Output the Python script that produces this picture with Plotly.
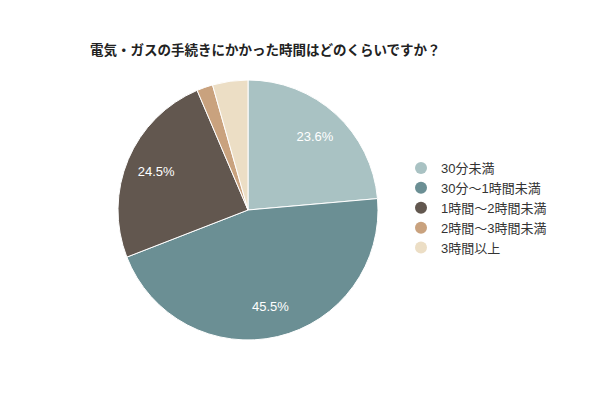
import plotly.graph_objects as go

title = "電気・ガスの手続きにかかった時間はどのくらいですか？"
categories = ["30分未満", "30分～1時間未満", "1時間～2時間未満", "2時間～3時間未満", "3時間以上"]
values = [23.6, 45.5, 24.5, 2.0, 4.4]
colors = ["#a9c2c3", "#6b8f94", "#62574f", "#c9a27e", "#ecdec5"]

labels_txt = [f"{v:.1f}%" if v >= 10 else "" for v in values]

OFF = 8  # page body margin
dom = dict(x=[(118 - OFF) / 600, (378 - OFF) / 600], y=[(60 + OFF) / 400, (320 + OFF) / 400])

fig = go.Figure()
fig.add_trace(go.Pie(
    labels=categories, values=values, sort=False, direction="clockwise",
    rotation=0, marker=dict(colors=colors, line=dict(color="white", width=1)),
    textinfo="none", showlegend=False, hoverinfo="label+percent", domain=dom,
))
# label layer: transparent ring so labels sit at ~3/4 of the radius
fig.add_trace(go.Pie(
    labels=categories, values=values, sort=False, direction="clockwise",
    rotation=0, hole=0.53,
    marker=dict(colors=["rgba(0,0,0,0)"] * len(values), line=dict(width=0)),
    text=labels_txt, texttemplate="%{text}", textposition="inside",
    insidetextorientation="horizontal",
    textfont=dict(color="white", size=13, family="Liberation Sans, Arial, sans-serif"),
    showlegend=False, hoverinfo="skip", domain=dom,
))
for c, col in zip(categories, colors):
    fig.add_trace(go.Scatter(x=[None], y=[None], mode="markers", name=c,
                             marker=dict(symbol="circle", size=12, color=col)))

fig.update_layout(
    width=600, height=400,
    margin=dict(l=0, r=0, t=0, b=0),
    paper_bgcolor="white", plot_bgcolor="white",
    title=dict(text="<b>" + title + "</b>", x=(90 - OFF) / 600, xanchor="left",
               y=1 - (50 - OFF) / 400, yanchor="middle",
               font=dict(size=13.5, color="#222", family="Noto Sans CJK JP, sans-serif")),
    xaxis=dict(visible=False), yaxis=dict(visible=False),
    legend=dict(x=(401 - OFF) / 600, y=1 - (153 - OFF) / 400, xanchor="left", yanchor="top",
                font=dict(size=13, color="#333", family="Liberation Sans, Noto Sans CJK JP, sans-serif"),
                itemwidth=30, tracegroupgap=0, bgcolor="rgba(0,0,0,0)"),
)
fig.write_html("out.html")
